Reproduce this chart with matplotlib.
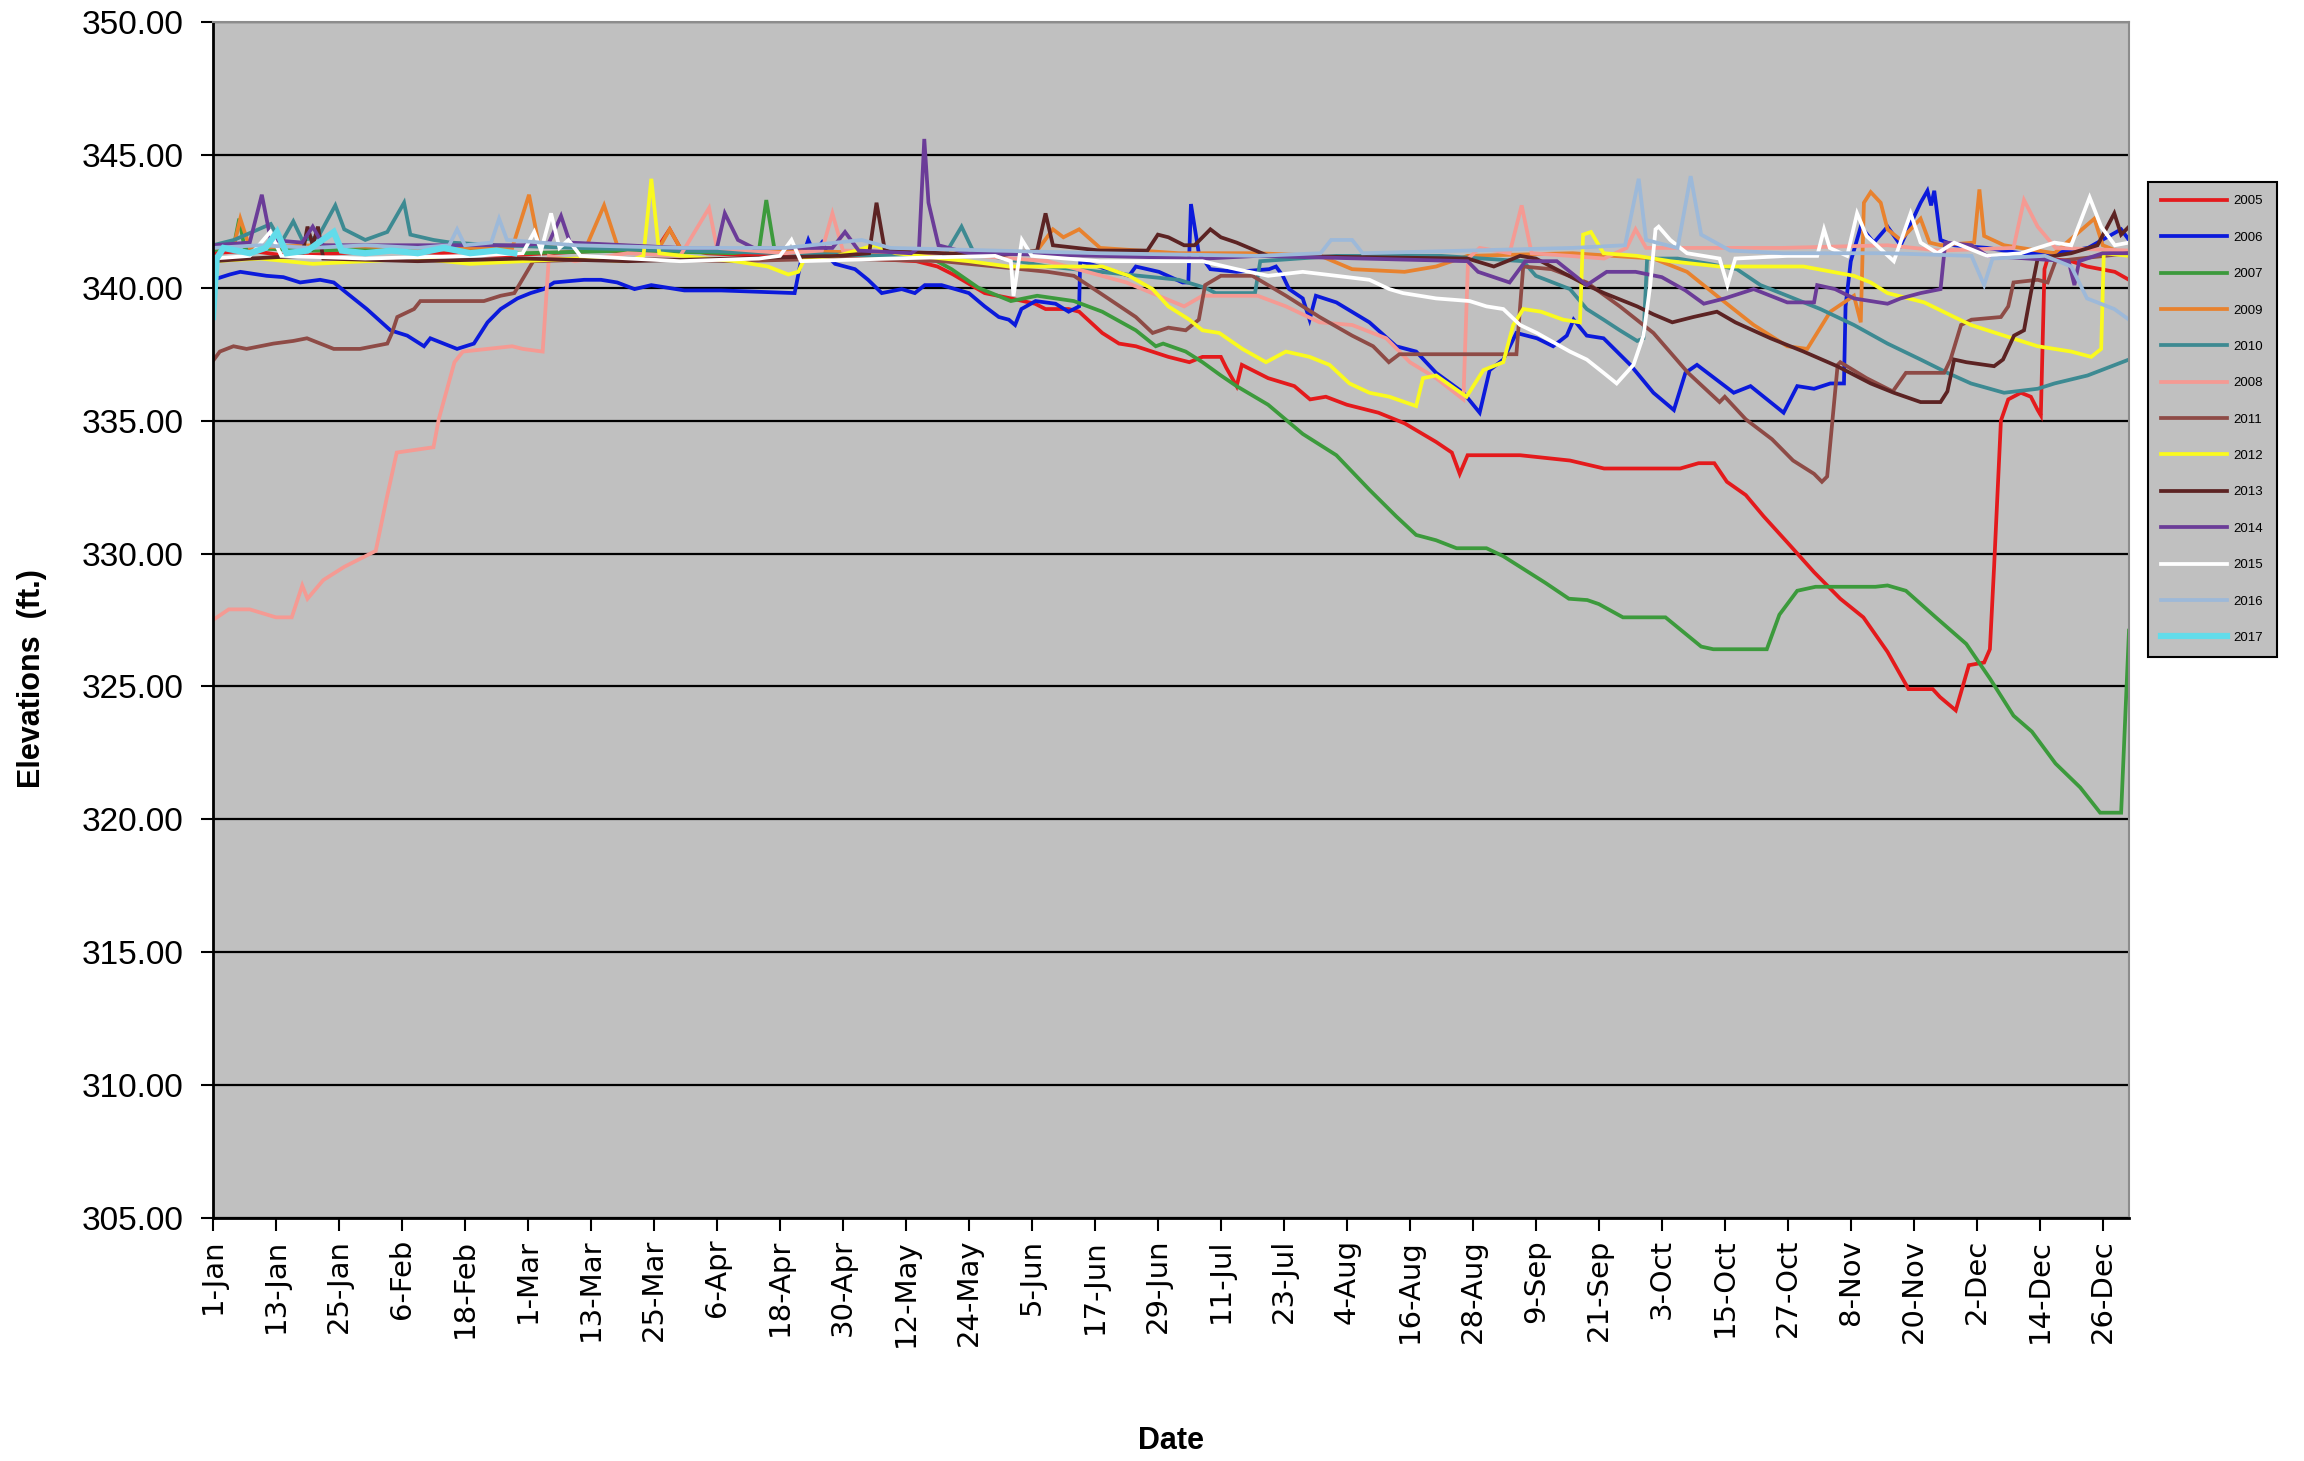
import matplotlib
matplotlib.use("Agg")
import numpy as np
from matplotlib import pyplot as plt

# day-of-year (leap-year calendar) and lake elevation (ft.) per year
day_2005 = [1, 8, 15, 25, 35, 45, 55, 65, 75, 85, 88, 90, 95, 105, 115, 125, 135, 139, 142, 148, 153, 157.6, 159.6, 164, 166,
            170.4, 173.6, 176.8, 183, 187, 189.5, 193, 194, 196, 197, 202, 207, 210, 213, 217, 223, 228, 234, 237, 238.5,
            240, 250, 259.5, 266, 280.5, 284, 287, 289.4, 293, 296.4, 301, 306, 311, 315.4, 320, 324, 328.6, 330, 333,
            335.5, 338.4, 339.5, 340.3, 341.6, 343, 345.4, 347.3, 348.6, 349.2, 349.9, 350.5, 355, 358, 363.3, 366]
elev_2005 = [341.3, 341.4, 341.2, 341.3, 341.4, 341.3, 341.2, 341.3, 341.4, 341.3, 342.2, 341.5, 341.3, 341.2, 341.3, 341.1,
             341.0, 340.8, 340.5, 339.8, 339.6, 339.4, 339.2, 339.2, 339.1, 338.3, 337.9, 337.8, 337.4, 337.2, 337.4, 337.4,
             337.0, 336.3, 337.1, 336.6, 336.3, 335.8, 335.9, 335.6, 335.3, 334.9, 334.2, 333.8, 333.0, 333.7, 333.7, 333.5,
             333.2, 333.2, 333.4, 333.4, 332.7, 332.2, 331.4, 330.4, 329.3, 328.3, 327.6, 326.3, 324.9, 324.9, 324.6, 324.1,
             325.8, 325.9, 326.4, 329.5, 335.0, 335.8, 336.05, 335.9, 335.4, 335.2, 340.7, 341.1, 341.0, 340.8, 340.6, 340.3]

day_2006 = [1, 4.2, 6.2, 11.2, 14.4, 17.6, 21.4, 24, 26.5, 30.3, 34.8, 38, 41.2, 42.4, 47.5, 50.7, 53.3, 55.8, 59, 61.5, 64,
            66, 71.7, 74.9, 78, 81.3, 84.5, 90.8, 97.8, 111.8, 113, 114.4, 115.5, 117, 118.5, 119.5, 123.3, 125.8, 128.4,
            132.2, 134.7, 136.6, 139.8, 145, 148, 150.7, 152.6, 153.8, 155, 157.7, 161.5, 164, 166, 166.2, 168, 175.5,
            176.8, 181.2, 185.7, 186.8, 187.3, 188.8, 191, 196, 202.2, 203.5, 204.8, 206, 208.6, 209.9, 211.1, 215, 221.3,
            226.4, 230.2, 234, 239.2, 242.3, 244.2, 246.8, 249.3, 253.2, 256.3, 258.9, 260.2, 262.7, 265.9, 271, 275.4,
            279.3, 281.5, 283.7, 290.7, 293.9, 300.2, 302.8, 306, 309.1, 311.7, 312, 313, 314.9, 317.4, 320, 322.5, 326.3,
            327.6, 328.3, 328.9, 330.1, 332.7, 339, 345.4, 351.8, 358.2, 364.5, 366]
elev_2006 = [340.3, 340.5, 340.6, 340.45, 340.4, 340.2, 340.3, 340.2, 339.8, 339.2, 338.4, 338.2, 337.8, 338.1, 337.7, 337.9,
             338.7, 339.2, 339.6, 339.8, 339.95, 340.2, 340.3, 340.3, 340.2, 339.95, 340.1, 339.9, 339.9, 339.8, 341.0,
             341.8, 341.3, 341.7, 341.1, 340.9, 340.7, 340.3, 339.8, 339.95, 339.8, 340.1, 340.1, 339.8, 339.3, 338.9,
             338.8, 338.6, 339.2, 339.5, 339.4, 339.1, 339.3, 341.0, 340.9, 340.45, 340.8, 340.6, 340.2, 340.2, 343.15,
             341.3, 340.7, 340.6, 340.7, 340.8, 340.45, 339.95, 339.6, 338.8, 339.7, 339.45, 338.7, 337.8, 337.6, 336.8,
             336.05, 335.3, 336.9, 337.3, 338.3, 338.1, 337.8, 338.2, 338.8, 338.2, 338.1, 337.1, 336.05, 335.4, 336.8,
             337.1, 336.05, 336.3, 335.3, 336.3, 336.2, 336.4, 336.4, 339.3, 341.0, 342.3, 341.7, 342.3, 341.6, 343.2,
             343.65, 343.1, 343.65, 341.8, 341.6, 341.5, 341.3, 341.3, 341.5, 342.2, 341.8]

day_2007 = [1, 5, 6, 7, 20, 40, 60, 80, 100, 105, 106.4, 108, 120, 130, 138, 141.7, 146.8, 153, 158, 165, 170.4, 176.8,
            180.6, 182, 186.3, 189.5, 193, 196, 202, 208.6, 215, 221.3, 226.4, 230.2, 234, 237.9, 243.6, 246.8, 250,
            254.8, 259.3, 262.8, 265, 269.6, 277.7, 284.5, 286.8, 297, 299.4, 302.8, 306.3, 317.7, 320, 323.5, 329.2, 335,
            339.5, 344, 347.5, 352, 356.7, 360.5, 364.5, 366]
elev_2007 = [341.4, 341.6, 342.6, 341.5, 341.4, 341.5, 341.3, 341.4, 341.3, 341.4, 343.3, 341.4, 341.3, 341.1, 341.1, 340.7,
             340.0, 339.5, 339.7, 339.5, 339.1, 338.4, 337.8, 337.9, 337.6, 337.2, 336.7, 336.3, 335.6, 334.5, 333.7,
             332.4, 331.4, 330.7, 330.5, 330.2, 330.2, 329.9, 329.5, 328.9, 328.3, 328.25, 328.1, 327.6, 327.6, 326.5,
             326.4, 326.4, 327.7, 328.6, 328.75, 328.75, 328.8, 328.6, 327.6, 326.6, 325.3, 323.9, 323.3, 322.1, 321.2,
             320.25, 320.25, 327.1]

day_2009 = [1, 5, 6.2, 8, 20, 40, 58, 61.2, 63, 72, 75.5, 78, 86, 88, 90, 110, 130, 150, 158, 161, 163, 166, 170, 185,
            200, 212, 218, 228, 234, 240, 260, 275.4, 281.8, 288.1, 294.5, 300.9, 304.7, 309.1, 313.6, 314.9, 315.5,
            316.8, 318.7, 320, 322.5, 326.3, 328, 330.1, 336.5, 337.5, 338.4, 342.2, 351.8, 359.4, 361, 366]
elev_2009 = [341.5, 341.6, 342.6, 341.5, 341.6, 341.5, 341.5, 343.5, 341.7, 341.5, 343.1, 341.6, 341.5, 342.2, 341.5, 341.4,
             341.3, 341.3, 341.4, 342.2, 341.9, 342.2, 341.5, 341.3, 341.3, 341.2, 340.7, 340.6, 340.8, 341.2, 341.3,
             341.1, 340.6, 339.6, 338.6, 337.8, 337.7, 339.1, 339.7, 338.7, 343.2, 343.6, 343.2, 342.2, 341.8, 342.6,
             341.7, 341.6, 341.7, 343.7, 341.95, 341.6, 341.3, 342.6, 341.6, 341.2]

day_2010 = [1, 5, 12, 14, 16.3, 18, 21, 24.3, 26, 30, 34.2, 37.4, 38.6, 43, 46.3, 55, 70, 90, 110, 130, 140, 143.6, 146,
            160, 175, 185, 190, 192, 199.5, 200.5, 215, 235, 250.6, 253, 259.5, 262.7, 265.9, 269, 272.3, 273.5, 274.2,
            280, 286, 291.3, 295.8, 300.9, 307.2, 313.6, 320, 326.3, 331.4, 335.9, 342.2, 348.6, 351.8, 358.1, 366]
elev_2010 = [341.6, 341.8, 342.4, 341.7, 342.5, 341.8, 341.9, 343.1, 342.2, 341.8, 342.1, 343.2, 342.0, 341.8, 341.7, 341.6,
             341.5, 341.4, 341.3, 341.2, 341.1, 342.3, 341.3, 340.8, 340.5, 340.3, 340.0, 339.8, 339.8, 341.0, 341.2,
             341.2, 341.0, 340.45, 339.95, 339.2, 338.8, 338.4, 338.0, 338.1, 341.1, 341.1, 340.9, 340.7, 340.1, 339.7,
             339.2, 338.6, 337.9, 337.3, 336.8, 336.4, 336.05, 336.2, 336.4, 336.7, 337.3]

day_2008 = [1, 4, 8, 13, 16, 18, 19, 22, 26, 30, 32, 34, 36, 43, 44, 47, 48.6, 58, 60, 63.8, 65, 70, 80, 90, 95.5, 97,
            110, 117, 119, 121, 140, 160, 175, 186, 189.5, 200, 205.4, 211.8, 218, 224.5, 229, 234, 239.2, 240.1, 242.3,
            248, 250.3, 252.2, 259.5, 266, 270.3, 272, 274, 300, 320, 330, 344, 346, 348.6, 352, 366]
elev_2008 = [327.5, 327.9, 327.9, 327.6, 327.6, 328.8, 328.3, 329.0, 329.5, 329.9, 330.1, 332.0, 333.8, 334.0, 335.05, 337.2,
             337.6, 337.8, 337.7, 337.6, 341.2, 341.0, 341.3, 341.2, 343.0, 341.5, 341.3, 341.4, 342.8, 341.4, 341.3,
             341.0, 340.2, 339.3, 339.7, 339.7, 339.3, 338.7, 338.6, 338.1, 337.2, 336.6, 335.8, 341.1, 341.5, 341.3,
             343.1, 341.3, 341.2, 341.1, 341.5, 342.2, 341.5, 341.5, 341.6, 341.4, 341.5, 343.3, 342.3, 341.5, 341.4]

day_2011 = [1, 2.3, 4.9, 7.4, 12.5, 16.3, 18.9, 24, 29, 34.2, 35.1, 36.1, 39.3, 40.5, 46.3, 52.6, 55.8, 58.4, 59.3, 62, 80,
            100, 120, 140, 160, 165, 170, 176.8, 180, 183, 186.3, 188.8, 190, 193, 199, 205.4, 211.8, 218, 222, 225, 227,
            249.3, 250.6, 256, 262.7, 269, 275.4, 282, 288, 289, 293, 298, 302, 306, 307.5, 308.5, 309.5, 310.5, 311,
            316, 321, 323.5, 330.8, 332, 334, 336, 341.6, 343, 344, 348.6, 350.5, 352, 366]
elev_2011 = [337.25, 337.6, 337.8, 337.7, 337.9, 338.0, 338.1, 337.7, 337.7, 337.9, 338.3, 338.9, 339.2, 339.5, 339.5, 339.5,
             339.7, 339.8, 340.1, 341.0, 341.1, 341.0, 341.1, 341.0, 340.6, 340.45, 339.8, 338.9, 338.3, 338.5, 338.4,
             338.8, 340.1, 340.45, 340.45, 339.7, 338.9, 338.2, 337.8, 337.2, 337.5, 337.5, 340.8, 340.7, 340.2, 339.3,
             338.3, 336.8, 335.7, 335.9, 335.05, 334.3, 333.5, 333.0, 332.7, 332.9, 335.0, 337.1, 337.2, 336.6, 336.1,
             336.8, 336.8, 337.3, 338.6, 338.8, 338.9, 339.3, 340.2, 340.3, 340.2, 341.0, 341.3]

day_2012 = [1, 10, 20, 30, 40, 50, 60, 70, 80, 83, 84.5, 86, 95, 100.4, 106.7, 110.6, 112.5, 113.7, 120, 127, 131, 140,
            145, 152.6, 170.4, 175.5, 180, 183, 187, 189.5, 192.7, 197.1, 201.6, 205.4, 209.9, 213.7, 217.5, 221.3, 225.1,
            230.2, 231.5, 234, 239.8, 243, 246.8, 248.7, 250.6, 254, 258.2, 261.4, 262, 263.5, 265.9, 272.3, 278.6, 288,
            304, 313.6, 316.8, 320, 327, 332.7, 335.9, 342.2, 348.6, 355, 358.8, 360.7, 361.2, 366]
elev_2012 = [341.0, 341.1, 340.9, 341.0, 341.1, 340.9, 341.0, 341.1, 341.0, 341.2, 344.1, 341.3, 341.1, 341.0, 340.8, 340.5,
             340.6, 341.1, 341.2, 341.6, 341.3, 341.1, 341.0, 340.8, 340.8, 340.45, 339.95, 339.3, 338.8, 338.4, 338.3,
             337.7, 337.2, 337.6, 337.4, 337.1, 336.4, 336.05, 335.9, 335.55, 336.6, 336.7, 335.9, 336.9, 337.2, 338.6,
             339.2, 339.1, 338.8, 338.7, 342.0, 342.1, 341.3, 341.2, 341.0, 340.8, 340.8, 340.45, 340.2, 339.8, 339.45,
             338.9, 338.6, 338.2, 337.8, 337.6, 337.4, 337.7, 341.3, 341.2]

day_2013 = [1, 8, 18, 19, 20, 21, 22, 40, 60, 80, 100, 120, 126, 127.4, 129, 140, 150, 158, 159.6, 161, 170, 179, 181, 183,
            186, 188, 191, 193, 196, 202, 240, 245, 250, 253, 262.7, 266, 272.3, 275.4, 279, 283, 287.5, 291, 297.7, 304,
            310.4, 316.8, 321.2, 326.3, 330.1, 331.4, 332.7, 335, 340.3, 342, 344.1, 346, 347.3, 348.6, 355, 360, 363.2,
            364.5, 366]
elev_2013 = [341.0, 341.1, 341.2, 342.3, 341.6, 342.3, 341.1, 341.0, 341.1, 341.0, 341.1, 341.2, 341.3, 343.2, 341.4, 341.3,
             341.2, 341.4, 342.8, 341.6, 341.4, 341.4, 342.0, 341.9, 341.6, 341.6, 342.2, 341.9, 341.7, 341.2, 341.1,
             340.8, 341.2, 341.1, 340.1, 339.8, 339.3, 339.0, 338.7, 338.9, 339.1, 338.7, 338.1, 337.6, 337.05, 336.4,
             336.05, 335.7, 335.7, 336.1, 337.3, 337.2, 337.05, 337.3, 338.2, 338.4, 339.8, 341.1, 341.3, 341.6, 342.8,
             342.0, 342.3]

day_2014 = [1, 8, 10.3, 12, 18, 20, 22, 40, 60, 65, 67.3, 69, 90, 97, 98.5, 101, 104, 119, 121.4, 124, 134, 135.5, 136.5,
            137.3, 139.2, 145, 170, 190, 200, 240, 242, 248, 251, 257, 262.7, 266.5, 272, 277, 281.5, 285, 289, 294.5,
            300.9, 306, 306.6, 310, 313.6, 320, 322.5, 326.3, 330.1, 331, 336, 339, 354.5, 355.6, 356.5, 361, 366]
elev_2014 = [341.6, 341.7, 343.5, 341.8, 341.7, 342.3, 341.6, 341.6, 341.6, 341.7, 342.7, 341.7, 341.5, 341.5, 342.8, 341.8,
             341.5, 341.5, 342.1, 341.4, 341.3, 341.5, 345.6, 343.2, 341.6, 341.3, 341.2, 341.1, 341.2, 341.0, 340.6,
             340.2, 341.0, 341.0, 340.1, 340.6, 340.6, 340.4, 339.9, 339.4, 339.6, 339.95, 339.45, 339.45, 340.1, 339.95,
             339.6, 339.4, 339.6, 339.8, 339.95, 341.7, 341.6, 341.2, 341.0, 340.1, 341.0, 341.3, 341.3]

day_2015 = [1, 8, 11.9, 14, 30, 50, 60, 62.2, 63.5, 65.4, 67, 68.7, 71, 90, 105, 109, 111.2, 113, 130, 150, 153, 153.5,
            155.1, 157, 170, 189.5, 196, 202, 208.6, 215, 221.3, 225.1, 227.7, 234, 240.4, 243.6, 246.8, 250, 253.2,
            259.5, 262.7, 265.9, 268.4, 271.6, 273.5, 274.8, 275.8, 276.4, 278.6, 281.8, 288, 289.5, 291, 300.9, 306.6,
            307.9, 309, 312.3, 314.2, 316, 321.2, 324.4, 326.3, 329.5, 332.7, 339, 345.4, 351.8, 355, 358.5, 360.7,
            363.3, 366]
elev_2015 = [341.1, 341.2, 342.1, 341.2, 341.1, 341.2, 341.3, 342.1, 341.4, 342.8, 341.5, 341.8, 341.2, 341.0, 341.1, 341.2,
             341.8, 341.0, 341.1, 341.2, 341.0, 339.7, 341.8, 341.2, 341.0, 341.0, 340.7, 340.45, 340.6, 340.45, 340.3,
             339.95, 339.8, 339.6, 339.5, 339.3, 339.2, 338.6, 338.3, 337.6, 337.3, 336.8, 336.4, 337.1, 338.2, 340.1,
             342.2, 342.3, 341.8, 341.3, 341.1, 340.1, 341.1, 341.2, 341.2, 342.2, 341.5, 341.2, 342.8, 341.95, 341.0,
             342.8, 341.7, 341.3, 341.7, 341.2, 341.3, 341.7, 341.6, 343.4, 342.3, 341.6, 341.7]

day_2016 = [1, 10, 20, 30, 40, 46, 47.5, 49, 54, 55.5, 57, 70, 90, 110, 124.6, 130, 150, 170, 200, 212, 214, 218, 220, 240,
            260, 270, 272.6, 274, 280, 282.5, 284.5, 290, 300, 320, 336, 338.4, 340, 350, 355, 358, 363.2, 366]
elev_2016 = [341.5, 341.6, 341.5, 341.6, 341.5, 341.6, 342.2, 341.6, 341.7, 342.6, 341.8, 341.6, 341.5, 341.5, 341.8, 341.5,
             341.4, 341.3, 341.2, 341.3, 341.8, 341.8, 341.3, 341.4, 341.5, 341.6, 344.1, 341.8, 341.5, 344.2, 342.0,
             341.4, 341.3, 341.3, 341.2, 340.1, 341.1, 341.2, 340.8, 339.6, 339.2, 338.8]

day_2017 = [1, 1.7, 3, 8, 11, 13.2, 15, 19, 24, 25.5, 30, 35, 40, 45, 50, 55, 58.4]
elev_2017 = [338.9, 341.1, 341.5, 341.3, 341.5, 342.1, 341.3, 341.4, 342.1, 341.4, 341.3, 341.4, 341.3, 341.5, 341.3, 341.4,
             341.3]

tick_days = list(range(1, 362, 12))
tick_labels = ["1-Jan", "13-Jan", "25-Jan", "6-Feb", "18-Feb", "1-Mar", "13-Mar", "25-Mar", "6-Apr", "18-Apr", "30-Apr",
               "12-May", "24-May", "5-Jun", "17-Jun", "29-Jun", "11-Jul", "23-Jul", "4-Aug", "16-Aug", "28-Aug", "9-Sep",
               "21-Sep", "3-Oct", "15-Oct", "27-Oct", "8-Nov", "20-Nov", "2-Dec", "14-Dec", "26-Dec"]

series = [
    ("2005", day_2005, elev_2005, "#E41A1C", 2.7),
    ("2006", day_2006, elev_2006, "#0B1ADB", 2.7),
    ("2007", day_2007, elev_2007, "#3C9A3C", 2.7),
    ("2009", day_2009, elev_2009, "#E8822E", 2.7),
    ("2010", day_2010, elev_2010, "#3D8A92", 2.7),
    ("2008", day_2008, elev_2008, "#F59A93", 2.7),
    ("2011", day_2011, elev_2011, "#8E4B46", 2.7),
    ("2012", day_2012, elev_2012, "#FAFA1E", 2.7),
    ("2013", day_2013, elev_2013, "#5C2323", 2.7),
    ("2014", day_2014, elev_2014, "#6B3C98", 2.7),
    ("2015", day_2015, elev_2015, "#FFFFFF", 2.7),
    ("2016", day_2016, elev_2016, "#9DB9D9", 2.7),
    ("2017", day_2017, elev_2017, "#62DCEA", 4.5),
]

plt.rcParams["font.family"] = ["Liberation Sans", "DejaVu Sans"]

fig = plt.figure(figsize=(23.04, 14.61), dpi=100)
ax = fig.add_axes([213 / 2304, 1 - 1218 / 1461, 1916 / 2304, 1196 / 1461])
ax.set_facecolor("#C0C0C0")

for label, d, e, color, lw in series:
    ax.plot(d, e, color=color, lw=lw, label=label, solid_joinstyle="miter")

ax.set_xlim(1, 366)
ax.set_ylim(305, 350)
ax.set_yticks(np.arange(305, 351, 5))
ax.set_yticklabels([f"{v:.2f}" for v in np.arange(305, 351, 5)], fontsize=24)
ax.set_xticks(tick_days)
ax.set_xticklabels(tick_labels, rotation=90, fontsize=21, family="DejaVu Sans")
ax.tick_params(axis="both", direction="out", length=9, width=1.5, color="black")
ax.tick_params(axis="y", pad=12)
ax.tick_params(axis="x", pad=6)
ax.yaxis.grid(True, color="black", lw=1.6)
ax.set_axisbelow(True)

for side in ["top", "right"]:
    ax.spines[side].set_color("#8C8C8C")
    ax.spines[side].set_linewidth(1.5)
for side in ["left", "bottom"]:
    ax.spines[side].set_color("black")
    ax.spines[side].set_linewidth(2)

fig.text(32 / 2304, 1 - 679 / 1461, "Elevations  (ft.)", rotation=90, fontsize=22, fontweight="bold",
         ha="center", va="center")
fig.text(1171 / 2304, 1 - 1441 / 1461, "Date", fontsize=22, fontweight="bold", ha="center", va="center")

leg = fig.legend(loc="upper left", bbox_to_anchor=(2148 / 2304, 1 - 182 / 1461), borderaxespad=0,
                 fontsize=9.5, handlelength=5.0, handletextpad=0.5, labelspacing=1.83, borderpad=1.0,
                 fancybox=False, framealpha=1, facecolor="#C0C0C0", edgecolor="black")
leg.get_frame().set_linewidth(1.5)

plt.savefig("out.png", dpi=100)
